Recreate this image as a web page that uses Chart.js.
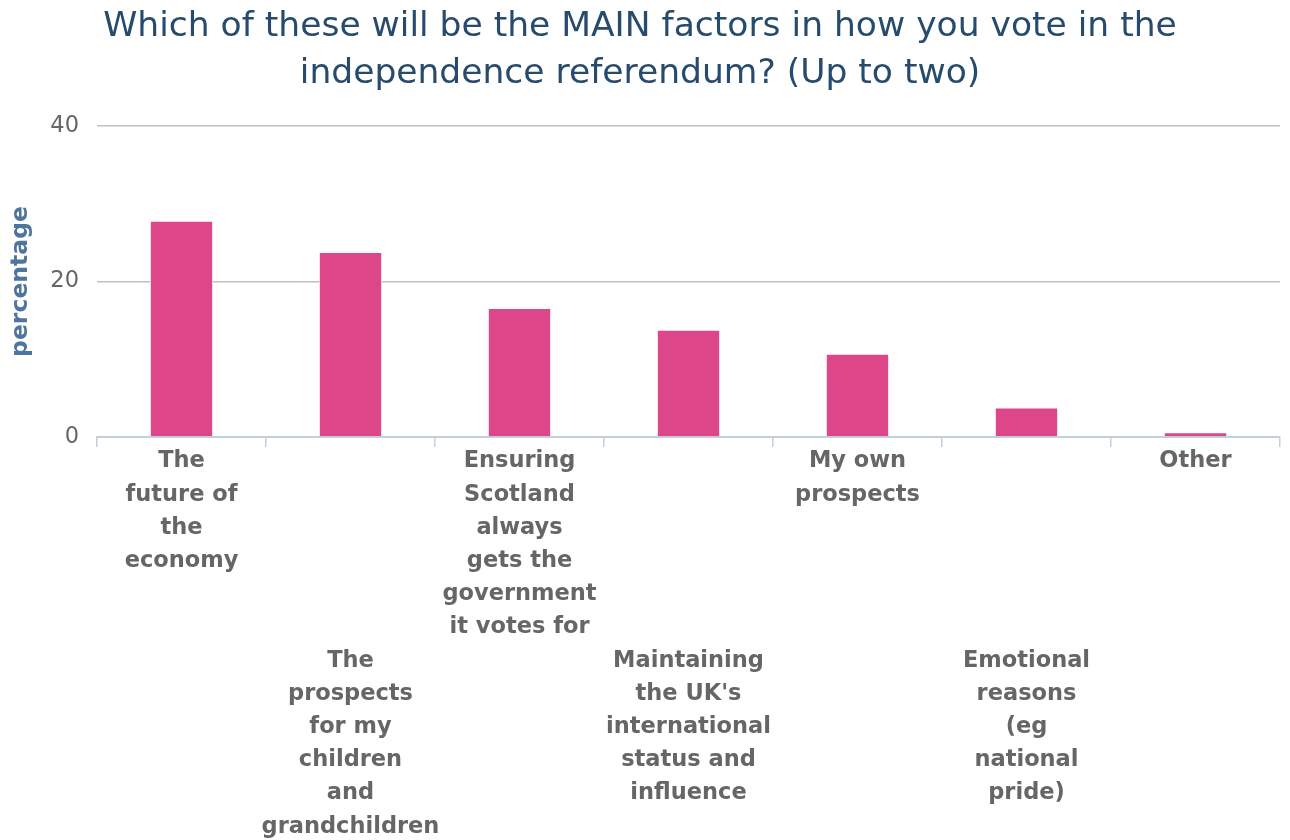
<!DOCTYPE html>
<html>
<head>
<meta charset="utf-8">
<script src="https://cdn.jsdelivr.net/npm/chart.js@4/dist/chart.umd.min.js"></script>
<style>
  html, body { margin: 0; padding: 0; background: #fff; }
  #wrap { width: 1290px; height: 840px; }
</style>
</head>
<body>
<div id="wrap"><canvas id="voteChart"></canvas></div>
<script>
// ================= DATA =================
const categories = [
    ["The", "future of", "the", "economy"],
    ["The", "prospects", "for my", "children", "and", "grandchildren"],
    ["Ensuring", "Scotland", "always", "gets the", "government", "it votes for"],
    ["Maintaining", "the UK's", "international", "status and", "influence"],
    ["My own", "prospects"],
    ["Emotional", "reasons", "(eg", "national", "pride)"],
    ["Other"]
];
const percentages = [27.8, 23.8, 16.6, 13.8, 10.7, 3.8, 0.6];
const yTicks = [0, 20, 40];

const chartTitle = ["Which of these will be the MAIN factors in how you vote in the",
                    "independence referendum? (Up to two)"];

const FONT = "'DejaVu Sans', sans-serif";

// ================= CHART =================
const ctx = document.getElementById("voteChart");

new Chart(ctx, {
    type: "bar",
    data: {
        labels: categories,
        datasets: [{
            label: "percentage",
            data: percentages,
            backgroundColor: "#dd4688",
            borderColor: "#ffffff",
            borderWidth: 1,
            categoryPercentage: 1,
            barPercentage: 0.375
        }]
    },
    options: {
        responsive: true,
        maintainAspectRatio: false,
        animation: false,
        layout: { padding: { left: 0, right: 10, top: 4, bottom: 0 } },
        plugins: {
            legend: { display: false },
            tooltip: { enabled: false },
            title: {
                display: true,
                text: chartTitle,
                color: "#274b6d",
                font: { family: FONT, size: 34.5, weight: "normal", lineHeight: "47px" },
                padding: { top: 0, bottom: 28 }
            }
        },
        scales: {
            x: {
                afterFit: function(scale) { scale.height = 403; },
                grid: {
                    offset: true,
                    drawOnChartArea: false,
                    drawTicks: true,
                    tickLength: 10,
                    color: "#c0d0e0",
                    lineWidth: 1.5
                },
                border: { display: true, color: "#c0d0e0", width: 2 },
                ticks: {
                    autoSkip: false,
                    maxRotation: 0,
                    minRotation: 0,
                    color: "#666666",
                    padding: -2,
                    font: { family: FONT, size: 22.5, weight: "bold", lineHeight: "33.2px" },
                    // stagger every second label down into a lower row
                    callback: function(value, index) {
                        let lines = categories[index];
                        if (index % 2 === 1) {
                            return ["", "", "", "", "", ""].concat(lines);
                        }
                        return lines;
                    }
                }
            },
            y: {
                min: 0,
                max: 40,
                afterFit: function(scale) { scale.width = 97; },
                afterBuildTicks: function(scale) {
                    scale.ticks = yTicks.map(v => ({ value: v }));
                },
                grid: {
                    color: "#c0c0c0",
                    lineWidth: 1.5,
                    drawTicks: false
                },
                border: { display: false },
                ticks: {
                    color: "#666666",
                    padding: 18,
                    font: { family: FONT, size: 22.5 }
                },
                title: {
                    display: true,
                    text: "percentage",
                    color: "#4d759e",
                    font: { family: FONT, size: 23.5, weight: "bold" },
                    padding: { top: 7, bottom: 0 }
                }
            }
        }
    }
});
</script>
</body>
</html>
